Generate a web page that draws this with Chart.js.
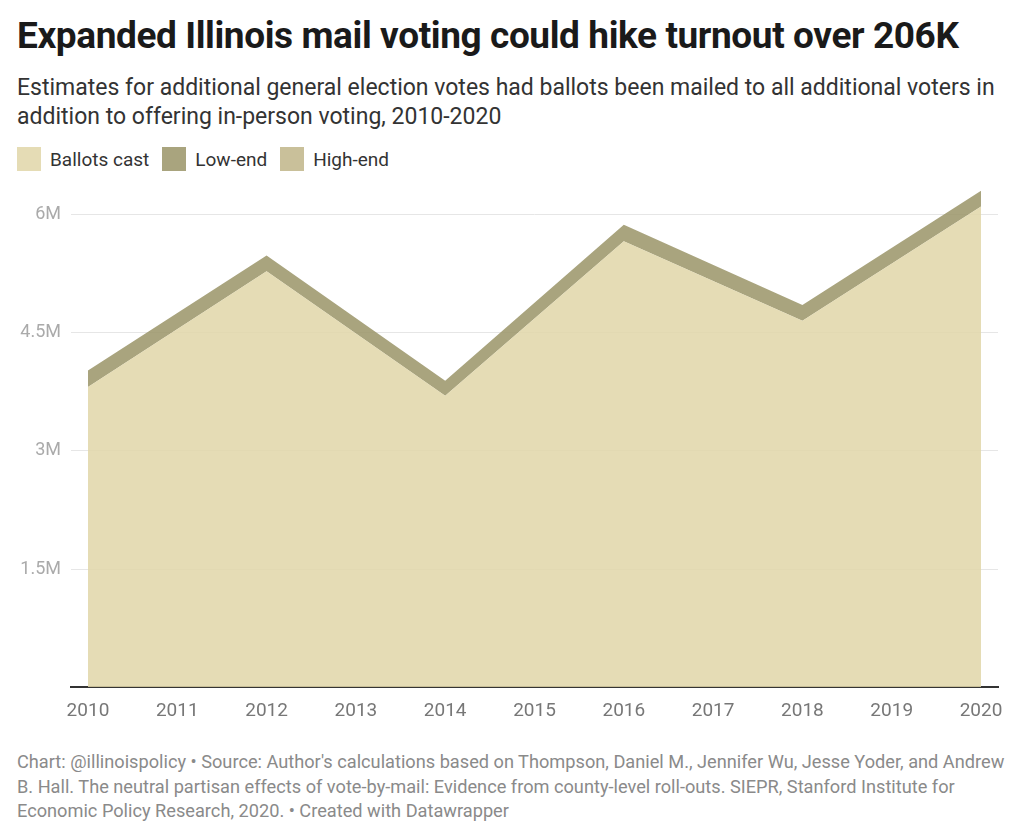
<!DOCTYPE html>
<html>
<head>
<meta charset="utf-8">
<script src="https://cdn.jsdelivr.net/npm/chart.js@4/dist/chart.umd.min.js"></script>
<style>
  body { margin: 0; background: #fff; font-family: Roboto, "Noto Sans", sans-serif; }
  #wrap { position: relative; width: 1024px; height: 834px; overflow: hidden; }
  h1 { position: absolute; left: 17px; top: 14px; margin: 0; font-size: 37px; font-weight: 700; color: #1a1a1a; letter-spacing: -0.4px; white-space: nowrap; }
  .sub { position: absolute; left: 17px; top: 73px; width: 1000px; margin: 0; font-size: 23px; line-height: 29px; color: #333; }
  .legend { position: absolute; left: 17px; top: 147px; font-size: 19px; color: #333; display: flex; }
  .legend span { display: flex; align-items: center; margin-right: 13px; }
  .legend i { display: inline-block; width: 24px; height: 24px; margin-right: 9px; }
  .foot { position: absolute; left: 17px; top: 750px; width: 1000px; font-size: 18.2px; line-height: 24.5px; color: #8a8a8a; }
  #box { position: absolute; left: 0; top: 170px; width: 1024px; height: 566px; }
</style>
</head>
<body>
<div id="wrap">
  <h1>Expanded Illinois mail voting could hike turnout over 206K</h1>
  <p class="sub">Estimates for additional general election votes had ballots been mailed to all additional voters in addition to offering in-person voting, 2010-2020</p>
  <div class="legend">
    <span><i style="background:#e5dcb5"></i>Ballots cast</span>
    <span><i style="background:#a9a47e"></i>Low-end</span>
    <span><i style="background:#c9c09a"></i>High-end</span>
  </div>
  <div id="box"><canvas id="chart"></canvas></div>
  <div class="foot">Chart: @illinoispolicy • Source: Author's calculations based on Thompson, Daniel M., Jennifer Wu, Jesse Yoder, and Andrew B. Hall. The neutral partisan effects of vote-by-mail: Evidence from county-level roll-outs. SIEPR, Stanford Institute for Economic Policy Research, 2020. • Created with Datawrapper</div>
</div>
<script>
// election years with data
const years = [2010, 2012, 2014, 2016, 2018, 2020];
const ballotsCast = [3.81, 5.28, 3.70, 5.66, 4.65, 6.10];   // millions
const lowEnd = [0.21, 0.20, 0.19, 0.21, 0.20, 0.20];        // millions, stacked on ballots
const highEnd = [0, 0, 0, 0, 0, 0];                         // not visible above the low-end band

// axis ticks
const xTicks = [2010, 2011, 2012, 2013, 2014, 2015, 2016, 2017, 2018, 2019, 2020];
const yTicks = [1.5, 3, 4.5, 6];

function pts(vals) {
    return years.map((y, i) => ({ x: y, y: vals[i] }));
}

const ctx = document.getElementById("chart").getContext("2d");

new Chart(ctx, {
    type: "line",
    data: {
        datasets: [
            { label: "Ballots cast", data: pts(ballotsCast), fill: "origin", backgroundColor: "rgba(224,214,168,0.85)" },
            { label: "Low-end", data: pts(lowEnd), fill: "-1", backgroundColor: "rgba(154,148,103,0.85)" },
            { label: "High-end", data: pts(highEnd), fill: "-1", backgroundColor: "rgba(190,180,135,0.85)" }
        ]
    },
    options: {
        responsive: true,
        maintainAspectRatio: false,
        animation: false,
        layout: { padding: { top: 5, right: 26, bottom: 0, left: 0 } },
        elements: {
            line: { borderWidth: 0, tension: 0 },
            point: { radius: 0, hoverRadius: 0 }
        },
        plugins: { legend: { display: false }, tooltip: { enabled: false } },
        scales: {
            x: {
                type: "linear",
                min: 2009.81,
                max: 2020.19,
                afterBuildTicks: axis => { axis.ticks = xTicks.map(v => ({ value: v })); },
                grid: { display: false, drawTicks: false },
                border: { display: true, color: "#333", width: 2 },
                ticks: {
                    color: "#777",
                    font: { family: "Roboto", size: 19 },
                    padding: 13,
                    maxRotation: 0,
                    autoSkip: false,
                    callback: v => String(v)
                }
            },
            y: {
                stacked: true,
                min: 0,
                max: 6.3,
                afterBuildTicks: axis => { axis.ticks = yTicks.map(v => ({ value: v })); },
                afterFit: axis => { axis.width = 71; },
                grid: { color: "#e6e6e6", drawTicks: false },
                border: { display: false },
                ticks: {
                    color: "#aaa",
                    font: { family: "Roboto", size: 18 },
                    padding: 10,
                    callback: v => v + "M"
                }
            }
        }
    }
});
</script>
</body>
</html>
